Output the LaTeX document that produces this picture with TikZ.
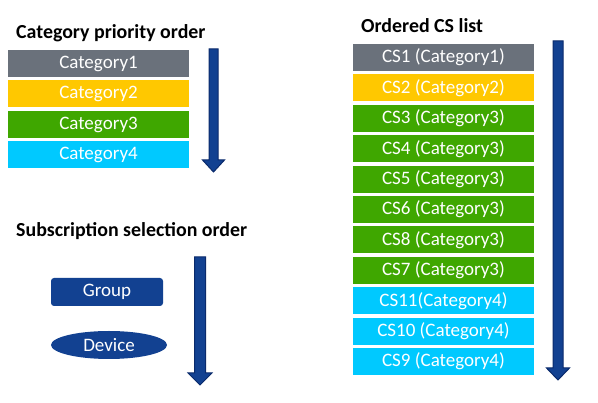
\documentclass[tikz,border=0pt]{standalone}
\usepackage{fontspec}
\setmainfont{Carlito}
\usepackage{tikz}
\usetikzlibrary{shapes.geometric}

\definecolor{catgrey}{HTML}{6A717B}
\definecolor{catyellow}{HTML}{FFC800}
\definecolor{catgreen}{HTML}{3FA700}
\definecolor{catcyan}{HTML}{00C9FF}
\definecolor{nokiablue}{HTML}{124191}
\definecolor{arrowedge}{HTML}{0A2A6B}

\begin{document}
\begin{tikzpicture}[x=1pt, y=-1pt,
    catbox/.style={rectangle, inner sep=0, minimum width=181pt, minimum height=27pt, text=white, font=\fontsize{19}{22}\selectfont},
    heading/.style={anchor=base west, inner sep=0, font=\fontsize{19.9}{22}\selectfont\bfseries},
    orderarrow/.style={fill=nokiablue, draw=arrowedge, line width=1pt, line join=miter}]
        \useasboundingbox (0, 0) rectangle (598, 403);

        \node (t0) [heading] at (16, 39) {Category priority order};
        \node (t1) [heading] at (16, 237) {Subscription selection order};
        \node (t2) [heading] at (361, 33) {Ordered CS list};

        \node (c1) [catbox, fill=catgrey] at (98.5, 63.5) {Category1};
        \node (c2) [catbox, fill=catyellow] at (98.5, 94) {Category2};
        \node (c3) [catbox, fill=catgreen] at (98.5, 124.5) {Category3};
        \node (c4) [catbox, fill=catcyan] at (98.5, 155) {Category4};

        \node (grp) [rectangle, rounded corners=3pt, fill=nokiablue, text=white, minimum width=112pt, minimum height=28pt, inner sep=0, font=\fontsize{19}{22}\selectfont] at (107, 292) {Group};
        \node (dev) [ellipse, fill=nokiablue, text=white, minimum width=116pt, minimum height=28pt, inner sep=0, font=\fontsize{19}{22}\selectfont] at (109, 345) {Device};

        \node (cs1) [catbox, fill=catgrey] at (443.5, 57.5) {CS1 (Category1)};
        \node (cs2) [catbox, fill=catyellow] at (443.5, 87.9) {CS2 (Category2)};
        \node (cs3) [catbox, fill=catgreen] at (443.5, 118.3) {CS3 (Category3)};
        \node (cs4) [catbox, fill=catgreen] at (443.5, 148.7) {CS4 (Category3)};
        \node (cs5) [catbox, fill=catgreen] at (443.5, 179.1) {CS5 (Category3)};
        \node (cs6) [catbox, fill=catgreen] at (443.5, 209.5) {CS6 (Category3)};
        \node (cs8) [catbox, fill=catgreen] at (443.5, 239.9) {CS8 (Category3)};
        \node (cs7) [catbox, fill=catgreen] at (443.5, 270.3) {CS7 (Category3)};
        \node (cs11) [catbox, fill=catcyan] at (443.5, 300.7) {CS11(Category4)};
        \node (cs10) [catbox, fill=catcyan] at (443.5, 331.1) {CS10 (Category4)};
        \node (cs9) [catbox, fill=catcyan] at (443.5, 361.5) {CS9 (Category4)};

        \path[orderarrow]
        (209, 49) -- (218, 49) -- (218, 160) -- (224.5, 160) -- (213.5, 172) -- (202.5, 160) -- (209, 160) -- cycle
        (194.5, 257) -- (205.5, 257) -- (205.5, 373) -- (212, 373) -- (200, 385) -- (188, 373) -- (194.5, 373) -- cycle
        (553, 41) -- (563, 41) -- (563, 368) -- (569.5, 368) -- (558, 380) -- (546.5, 368) -- (553, 368) -- cycle
        ;
      \end{tikzpicture}
\end{document}
